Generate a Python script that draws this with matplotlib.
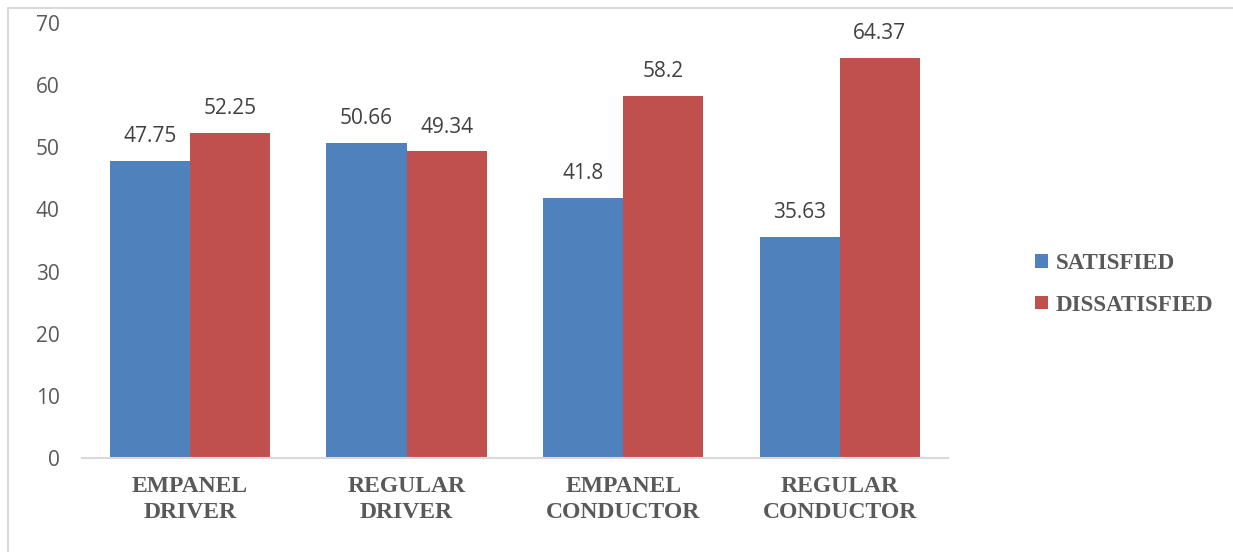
import numpy as np
import matplotlib.pyplot as plt
from matplotlib.patches import Rectangle

categories = ["EMPANEL\nDRIVER", "REGULAR\nDRIVER", "EMPANEL\nCONDUCTOR", "REGULAR\nCONDUCTOR"]
satisfied = [47.75, 50.66, 41.8, 35.63]
dissatisfied = [52.25, 49.34, 58.2, 64.37]
sat_labels = ["47.75", "50.66", "41.8", "35.63"]
dis_labels = ["52.25", "49.34", "58.2", "64.37"]

BLUE = "#4F81BD"
RED = "#C0504D"
SERIF = "Liberation Serif"

fig = plt.figure(figsize=(12.33, 5.52), dpi=100)
# light frame around the chart area
fig.patches.append(Rectangle((8 / 1233, -0.1), 1.2, 1 - 8 / 552 + 0.1,
                             transform=fig.transFigure, fill=False,
                             edgecolor="#d9d9d9", lw=1.5))
ax = fig.add_axes([0.0663, 0.1703, 0.7026, 0.788])

x = np.arange(len(categories))
w = 0.37
b1 = ax.bar(x - w / 2, satisfied, w, color=BLUE, label="SATISFIED")
b2 = ax.bar(x + w / 2, dissatisfied, w, color=RED, label="DISSATISFIED")

for bars, labs in ((b1, sat_labels), (b2, dis_labels)):
    for bar, lab in zip(bars, labs):
        ax.annotate(lab, (bar.get_x() + bar.get_width() / 2, bar.get_height()),
                    xytext=(0, 10), textcoords="offset points", ha="center",
                    va="bottom", fontsize=15, color="#404040", family="Open Sans")

ax.set_xlim(-0.5, len(categories) - 0.5)
ax.set_ylim(0, 70)
ax.set_yticks(range(0, 71, 10))
ax.tick_params(axis="y", length=0, pad=16, labelsize=15, labelcolor="#595959")
ax.tick_params(axis="x", length=0, pad=13)
for t in ax.get_yticklabels():
    t.set_family("Open Sans")
ax.set_xticks(x)
ax.set_xticklabels(categories, family=SERIF, fontweight="bold",
                   fontsize=17, color="#595959", linespacing=1.3)

for s in ("top", "right", "left"):
    ax.spines[s].set_visible(False)
ax.spines["bottom"].set_color("#d9d9d9")
ax.spines["bottom"].set_linewidth(1.5)

leg = fig.legend(loc="center left", bbox_to_anchor=(0.823, 0.485), frameon=False,
                 prop={"family": SERIF, "weight": "bold", "size": 16.5},
                 handlelength=0.55, handleheight=0.55, handletextpad=0.35,
                 labelspacing=0.9, labelcolor="#595959")

fig.savefig("out.png", dpi=100, facecolor="white")
